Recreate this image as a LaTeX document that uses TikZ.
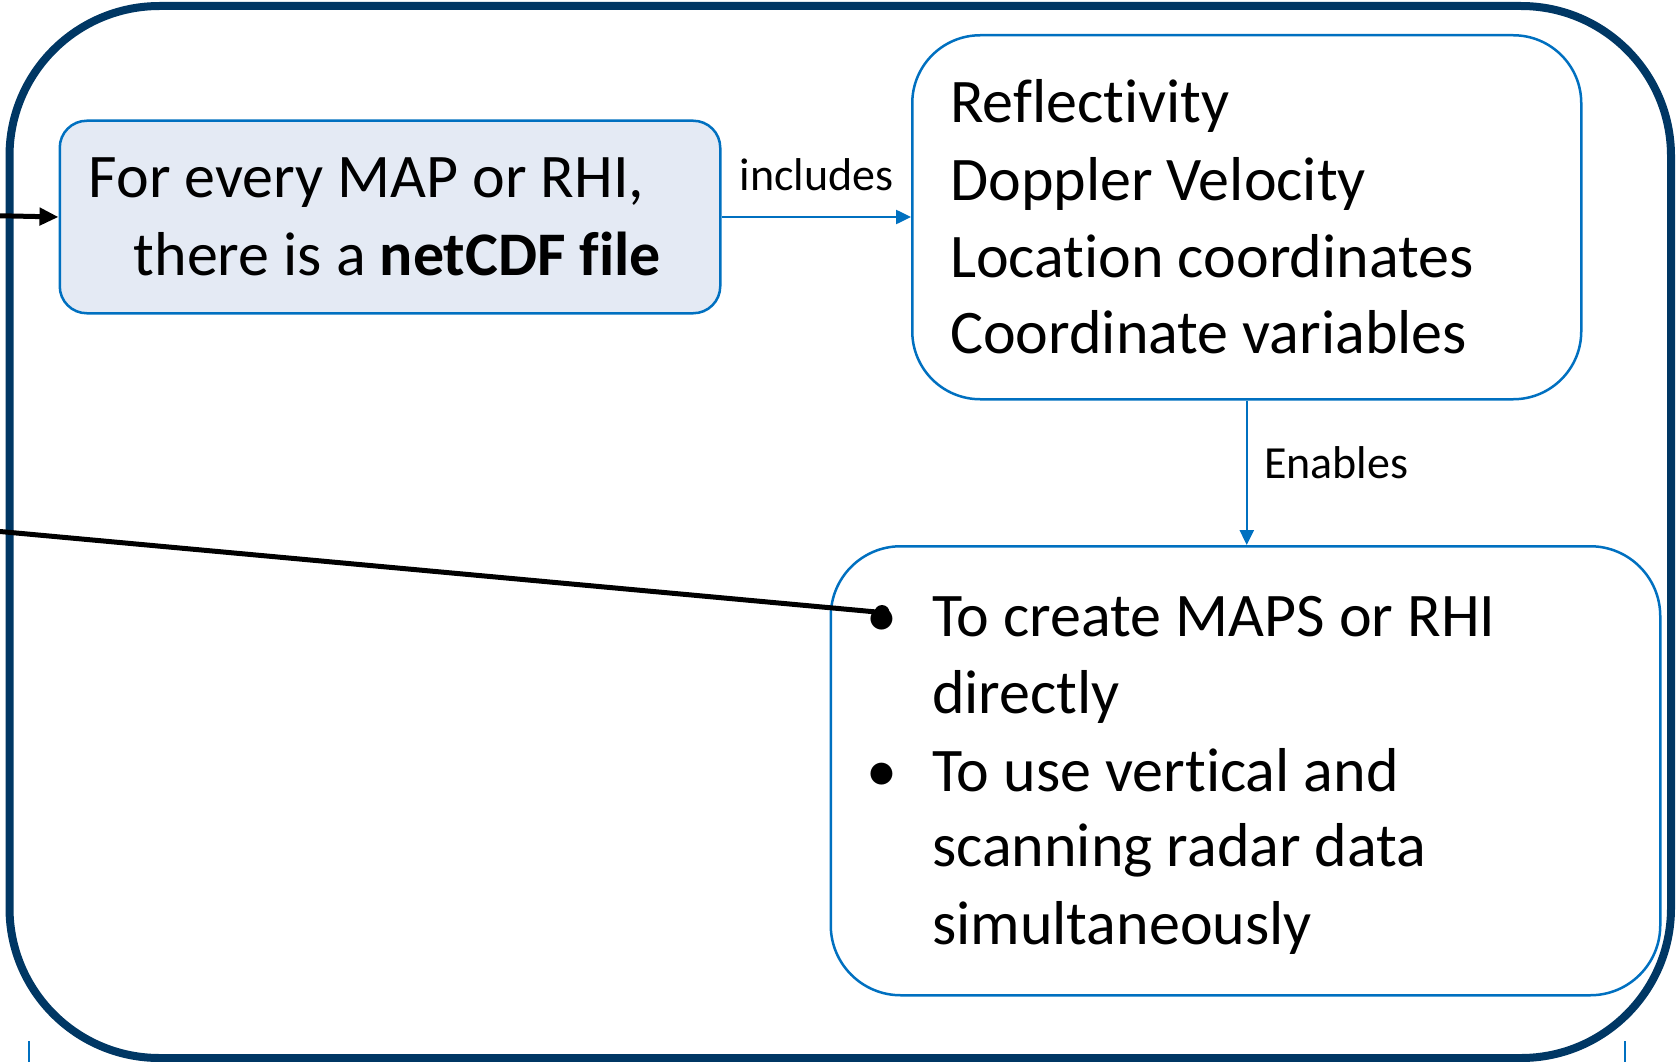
\documentclass[tikz,border=0pt]{standalone}
\usepackage{fontspec}
\setmainfont{Carlito}[Ligatures={NoCommon,NoContextual},Contextuals=NoAlternate]
\usetikzlibrary{arrows.meta}
\definecolor{navy}{HTML}{003764}
\definecolor{mblue}{HTML}{0070C0}
\definecolor{lfill}{HTML}{E4EAF4}
\tikzset{
  box/.style={draw=mblue, line width=2.5pt, anchor=north west, inner sep=0pt},
  bigtxt/.style={anchor=base west, inner sep=0pt, font=\fontsize{62}{77}\selectfont},
  smalltxt/.style={anchor=base west, inner sep=0pt, font=\fontsize{46}{56}\selectfont},
  bluearrow/.style={draw=mblue, line width=2.5pt, -{Triangle[length=15pt,width=14pt]}},
  blackarrow/.style={draw=black, line width=5pt, -{Triangle[length=19pt,width=17pt]}},
}
\begin{document}
\begin{tikzpicture}[x=1pt,y=-1pt]
\useasboundingbox (0,0) rectangle (1676,1062);
% outer frame
\draw[navy, line width=8pt, rounded corners=150pt] (9.5,6) rectangle (1671,1058);
% small blue ticks at bottom
\draw[mblue, line width=1.5pt] (29,1041) -- (29,1062);
\draw[mblue, line width=1.5pt] (1625,1041) -- (1625,1062);
% boxes
\node[box, fill=lfill, rounded corners=27pt, minimum width=660.5pt, minimum height=192.5pt] (b1) at (58.5,119.5) {};
\node[box, fill=white, rounded corners=68pt, minimum width=669pt, minimum height=364pt] (b2) at (911,34) {};
\node[box, fill=white, rounded corners=70pt, minimum width=829.5pt, minimum height=449pt] (b3) at (829.5,545) {};
% box 1 text
\node[bigtxt] (t11) at (88.5,197.5) {For every MAP or RHI,};
\node[bigtxt] (t12) at (133.5,275.5) {there is a \textbf{netCDF file}};
% box 2 text
\node[bigtxt] (t21) at (950,123) {Reflectivity};
\node[bigtxt] (t22) at (950,200) {Doppler Velocity};
\node[bigtxt] (t23) at (950,277) {Location coordinates};
\node[bigtxt] (t24) at (950,353) {Coordinate variables};
% box 3 text
\node[bigtxt, anchor=base] (bu1) at (882,636) {•};
\node[bigtxt, anchor=base] (bu2) at (882,791) {•};
\node[bigtxt] (t31) at (932,636) {To create MAPS or RHI};
\node[bigtxt] (t32) at (932,713) {directly};
\node[bigtxt] (t33) at (932,791) {To use vertical and};
\node[bigtxt] (t34) at (932,866) {scanning radar data};
\node[bigtxt] (t35) at (932,944) {simultaneously};
% connectors
\coordinate (inleft) at (0,215.75);
\draw[blackarrow] (inleft) -- (b1.west);
\draw[bluearrow] (b1.east) -- (b2.west |- b1.east);
\node[smalltxt, anchor=base] (inc) at (816.5,190) {includes};
\draw[bluearrow] (b2.south) -- (b2.south |- b3.north);
\node[smalltxt] (ena) at (1264,478) {Enables};
\coordinate (lineleft) at (0,531.5);
\coordinate (dotend) at (882,612.5);
\draw[black, line width=5pt] (lineleft) -- (dotend);
\fill[black] (dotend) circle (7.5pt);
\end{tikzpicture}
\end{document}
